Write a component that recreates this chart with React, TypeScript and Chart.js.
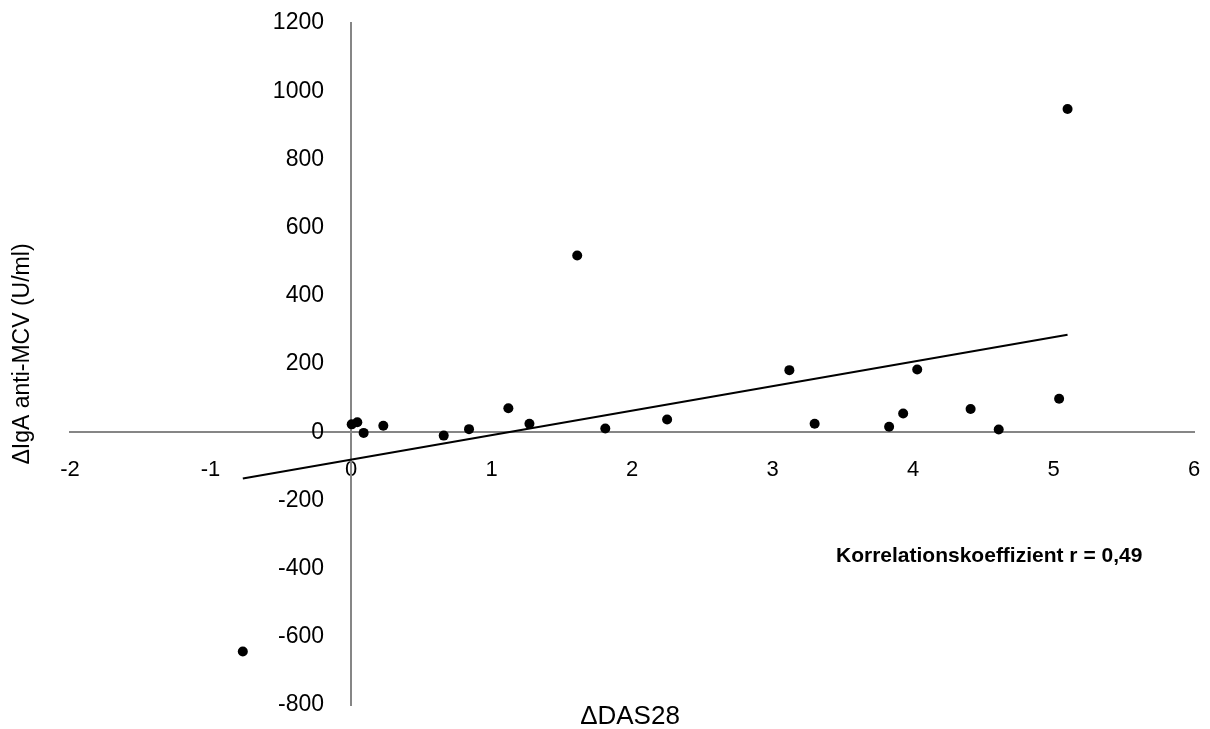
import React, { useEffect, useRef } from "react";
import { Chart, registerables } from "chart.js";

Chart.register(...registerables);

const pointsX = [-0.77, 0.005, 0.045, 0.09, 0.23, 0.66, 0.84, 1.12, 1.27, 1.61, 1.81, 2.25, 3.12, 3.30, 3.83, 3.93, 4.03, 4.41, 4.61, 5.04, 5.10];
const pointsY = [-643, 23, 29, -2, 19, -10, 9, 70, 25, 518, 11, 37, 182, 25, 16, 55, 184, 68, 8, 98, 948];

const trendX = [-0.77, 5.10];
const trendY = [-136, 286];

const xTitle = "ΔDAS28";
const yTitle = "ΔIgA anti-MCV (U/ml)";
const noteText = "Korrelationskoeffizient r = 0,49";

const FONT = "'Liberation Sans', Arial, sans-serif";

export default function App() {
  const ref = useRef<HTMLCanvasElement | null>(null);

  useEffect(() => {
    document.body.style.margin = "0";
    const canvas = ref.current;
    if (!canvas) return;

    const axisPlugin = {
      id: "crossAxis",
      afterLayout(chart: any) {
        const ys = chart.scales.y;
        const px = chart.scales.x.getPixelForValue(0);
        ys.right = px;
        ys.left = px - 160;
      },
    };

    const textPlugin = {
      id: "texts",
      afterDraw(chart: any) {
        const ctx = chart.ctx;
        ctx.save();
        ctx.fillStyle = "#000";
        ctx.textAlign = "center";
        ctx.textBaseline = "middle";
        ctx.font = `26px ${FONT}`;
        ctx.fillText(xTitle, 630, 717);
        ctx.save();
        ctx.font = `23px ${FONT}`;
        ctx.translate(23, 354);
        ctx.rotate(-Math.PI / 2);
        ctx.fillText(yTitle, 0, 0);
        ctx.restore();
        ctx.textAlign = "left";
        ctx.font = `bold 21px ${FONT}`;
        ctx.fillText(noteText, 836, 556);
        ctx.restore();
      },
    };

    const zeroPad = (s: any) => {
      s.paddingTop = 0;
      s.paddingBottom = 0;
      s.paddingLeft = 0;
      s.paddingRight = 0;
    };

    const chart = new Chart(canvas, {
      type: "scatter",
      data: {
        datasets: [
          {
            label: "data",
            data: pointsX.map((x, i) => ({ x, y: pointsY[i] })),
            backgroundColor: "#000",
            borderColor: "#000",
            pointRadius: 5,
            pointBorderWidth: 0,
            showLine: false,
          },
          {
            label: "trend",
            data: trendX.map((x, i) => ({ x, y: trendY[i] })),
            borderColor: "#000",
            borderWidth: 2,
            pointRadius: 0,
            showLine: true,
          },
        ],
      },
      options: {
        animation: false,
        responsive: false,
        maintainAspectRatio: false,
        layout: { padding: { left: 0, right: 16, top: 23, bottom: 24 } },
        plugins: { legend: { display: false }, tooltip: { enabled: false } },
        scales: {
          x: {
            type: "linear",
            min: -2,
            max: 6,
            position: { y: 0 } as any,
            afterFit: zeroPad,
            grid: { display: false, drawTicks: false },
            border: { display: true, color: "#868686", width: 2 },
            ticks: {
              stepSize: 1,
              color: "#000",
              padding: 25,
              font: { size: 22, family: FONT },
              callback: (v: any) => String(v),
            },
          },
          y: {
            type: "linear",
            min: -800,
            max: 1200,
            position: "left",
            afterFit: (s: any) => {
              zeroPad(s);
              s.width = 70;
            },
            grid: { display: false, drawTicks: false },
            border: { display: true, color: "#868686", width: 2 },
            ticks: {
              stepSize: 200,
              color: "#000",
              padding: 27,
              font: { size: 23, family: FONT },
              callback: (v: any) => String(v),
            },
          },
        },
      },
      plugins: [axisPlugin, textPlugin],
    });
    return () => chart.destroy();
  }, []);

  return (
    <div style={{ position: "absolute", left: 0, top: 0, width: 1210, height: 729 }}>
      <canvas ref={ref} width={1210} height={729} style={{ width: 1210, height: 729 }} />
    </div>
  );
}
